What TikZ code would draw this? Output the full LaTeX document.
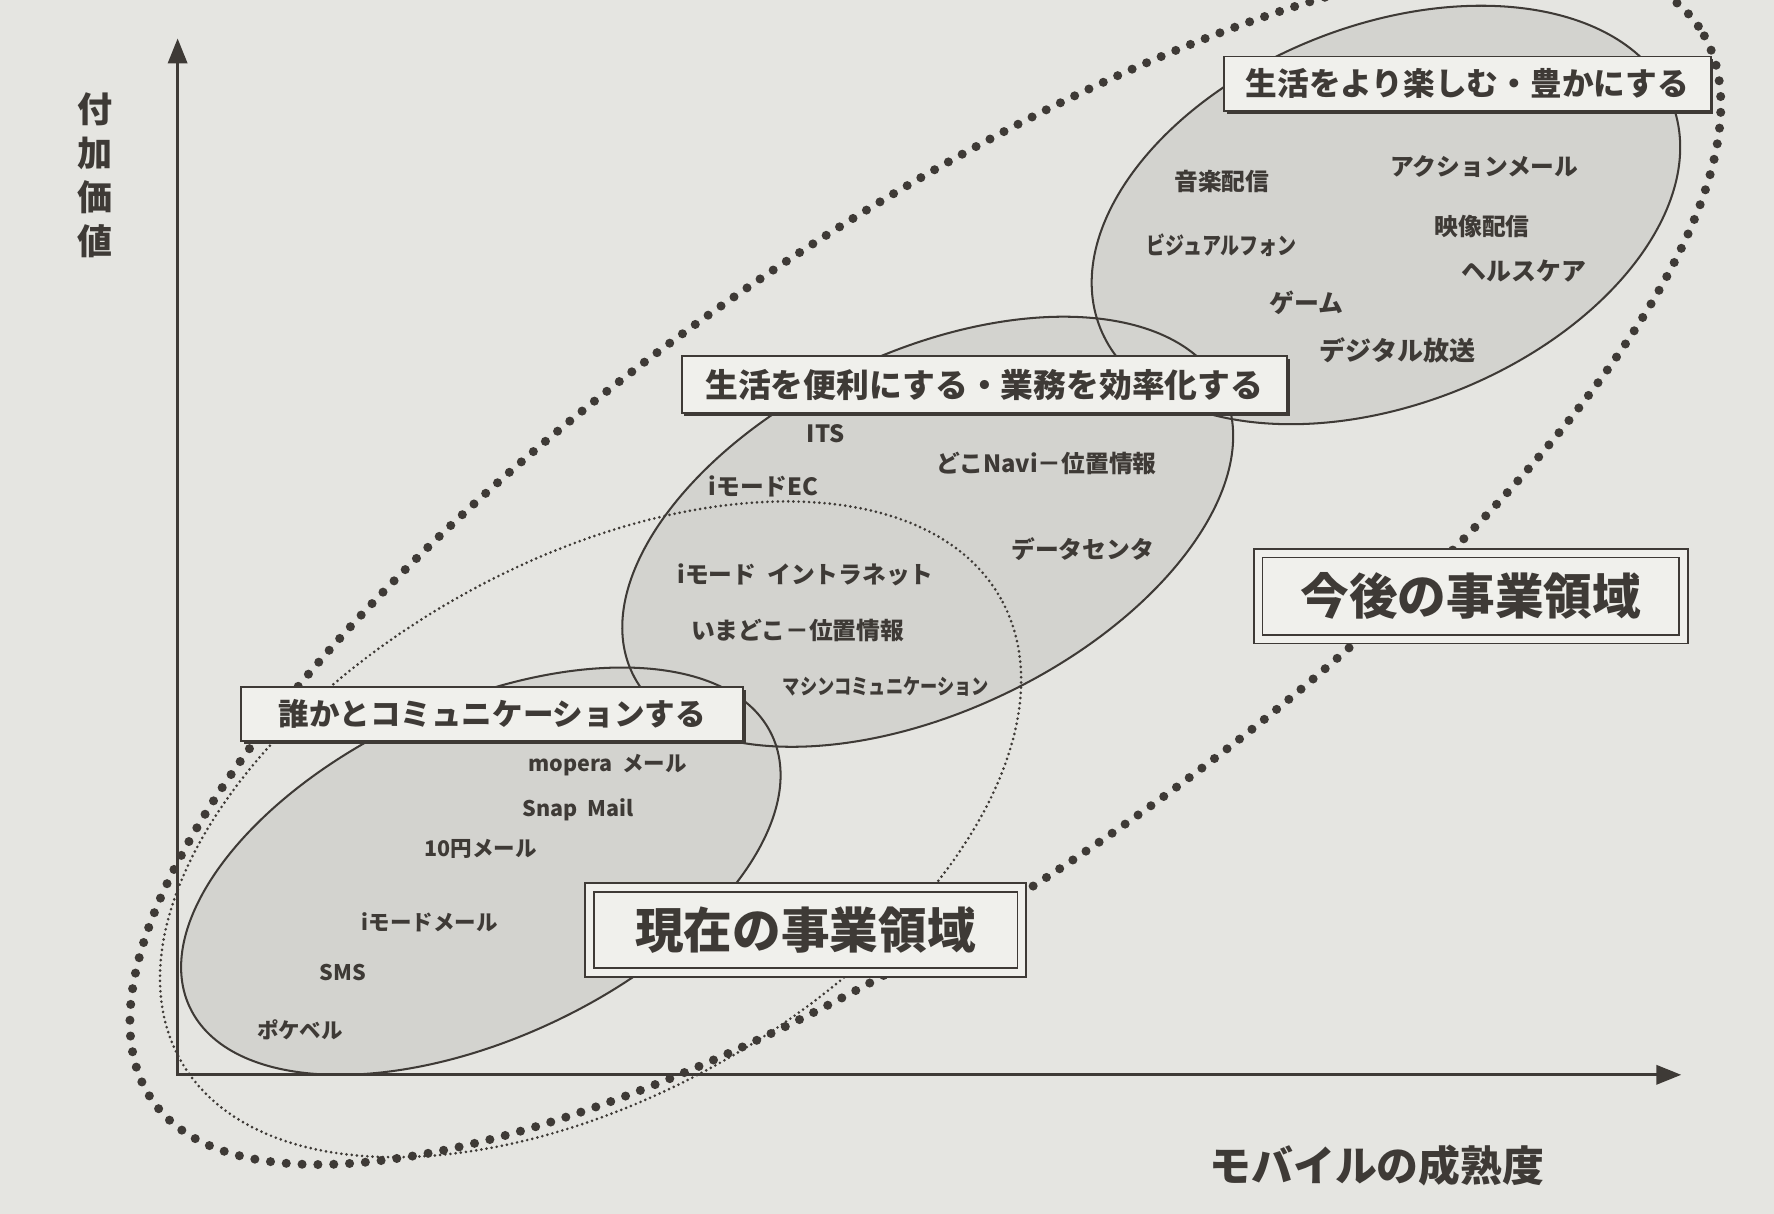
\documentclass[tikz,border=0pt]{standalone}
\usepackage{fontspec}
\newfontfamily\jp{Noto Sans CJK JP}
\usetikzlibrary{arrows.meta,shadows}
\definecolor{bg}{RGB}{229,229,225}
\definecolor{ellfill}{RGB}{211,211,207}
\definecolor{ink}{RGB}{62,58,54}
\definecolor{boxfill}{RGB}{240,240,236}
\begin{document}
\begin{tikzpicture}[x=1pt,y=-1pt,
  lbl/.style={font=\jp\bfseries\fontsize{21}{21}\selectfont, text=ink, inner sep=0pt},
  tbox/.style={draw=ink, line width=1.6pt, fill=boxfill, inner sep=0pt, text=ink,
    font=\jp\bfseries\fontsize{28}{28}\selectfont,
    drop shadow={shadow xshift=2.5pt, shadow yshift=-2.5pt, fill=ink, opacity=1}},
  bigbox/.style={draw=ink, line width=1.5pt, double=boxfill, double distance=6pt, fill=boxfill,
    inner sep=0pt, text=ink, font=\jp\bfseries\fontsize{43}{43}\selectfont,
    drop shadow={shadow xshift=2.5pt, shadow yshift=-2.5pt, fill=ink, opacity=1}},
  axisline/.style={draw=ink, line width=2.4pt, -{Triangle[length=22pt,width=17pt]}},
  bigdots/.style={draw=ink, line width=8pt, line cap=round, dash pattern=on 0pt off 14pt},
  finedots/.style={draw=ink, line width=2.6pt, line cap=round, dash pattern=on 0pt off 4.6pt},
  ell/.style={draw=ink, line width=1.8pt}]
\fill[bg] (0,0) rectangle (1568,1073);
\useasboundingbox (0,0) rectangle (1568,1073);
\clip (0,0) rectangle (1568,1073);
% centres
\coordinate (cTop) at (1225,190);
\coordinate (cMid) at (820,470);
\coordinate (cBot) at (425,770);
\coordinate (cFine) at (522,733);
\coordinate (cBig) at (818,498);
% ellipse fills
\fill[ellfill, rotate around={21.5:(cTop)}] (cTop) ellipse [x radius=271.6pt, y radius=167.5pt];
\fill[ellfill, rotate around={25.6:(cMid)}] (cMid) ellipse [x radius=289.5pt, y radius=158.7pt];
\fill[ellfill, rotate around={25:(cBot)}] (cBot) ellipse [x radius=284pt, y radius=148pt];
% dotted regions
\draw[bigdots, rotate around={34.8:(cBig)}] (cBig) ellipse [x radius=832pt, y radius=290pt];
\draw[finedots, rotate around={29.4:(cFine)}] (cFine) ellipse [x radius=416pt, y radius=236pt];
% ellipse outlines
\draw[ell, rotate around={21.5:(cTop)}] (cTop) ellipse [x radius=271.6pt, y radius=167.5pt];
\draw[ell, rotate around={25.6:(cMid)}] (cMid) ellipse [x radius=289.5pt, y radius=158.7pt];
\draw[ell, rotate around={25:(cBot)}] (cBot) ellipse [x radius=284pt, y radius=148pt];
% axes
\coordinate (O) at (157,950);
\coordinate (Ytip) at (157,34);
\coordinate (Xtip) at (1486,950);
\draw[axisline] ([yshift=1.2pt]O) -- (Ytip);
\draw[axisline] ([xshift=-1.2pt]O) -- (Xtip);
\node[font=\jp\bfseries\fontsize{31}{39}\selectfont, text=ink, align=center, inner sep=0pt] (ylab) at (84,155) {付\\加\\価\\値};
\node[font=\jp\bfseries\fontsize{37}{37}\selectfont, text=ink, inner sep=0pt] (xlab) at (1217,1030) {モバイルの成熟度};
% category boxes
\node[tbox, minimum width=430pt, minimum height=48pt] (bTop) at (1297,74) {生活をより楽しむ・豊かにする};
\node[tbox, minimum width=535pt, minimum height=50pt, font=\jp\bfseries\fontsize{29}{29}\selectfont] (bMid) at (870,340) {生活を便利にする・業務を効率化する};
\node[tbox, minimum width=444pt, minimum height=48pt, font=\jp\bfseries\fontsize{27}{27}\selectfont] (bBot) at (435,631) {誰かとコミュニケーションする};
\node[bigbox, minimum width=382pt, minimum height=75pt] (bNow) at (712,822) {現在の事業領域};
\node[bigbox, minimum width=376pt, minimum height=76pt] (bFut) at (1300,527) {今後の事業領域};
% top ellipse labels
\node[lbl] (t1) at (1080,160) {音楽配信};
\node[lbl] (t2) at (1312,147) {アクションメール};
\node[lbl] (t3) at (1310,200) {映像配信};
\node[lbl] (t4) at (1080,217) {\scalebox{0.8}[1]{ビジュアルフォン}};
\node[lbl, font=\jp\bfseries\fontsize{22}{22}\selectfont] (t5) at (1347,240) {ヘルスケア};
\node[lbl, font=\jp\bfseries\fontsize{22}{22}\selectfont] (t6) at (1155,268) {ゲーム};
\node[lbl, font=\jp\bfseries\fontsize{23}{23}\selectfont] (t7) at (1235,310) {デジタル放送};
% middle ellipse labels
\node[lbl] (m1) at (730,383) {ITS};
\node[lbl] (m2) at (925,410) {どこNavi－位置情報};
\node[lbl] (m3) at (675,430) {iモードEC};
\node[lbl] (m4) at (957,485) {データセンタ};
\node[lbl] (m5) at (712,508) {iモード\ \ イントラネット};
\node[lbl] (m6) at (705,557) {いまどこ－位置情報};
\node[lbl, font=\jp\bfseries\fontsize{19}{19}\selectfont] (m7) at (783,607) {\scalebox{0.8}[1]{マシンコミュニケーション}};
% bottom ellipse labels
\node[lbl, font=\jp\bfseries\fontsize{19}{19}\selectfont] (s1) at (537,676) {mopera\ \ メール};
\node[lbl, font=\jp\bfseries\fontsize{19}{19}\selectfont] (s2) at (511,716) {Snap\ \ Mail};
\node[lbl, font=\jp\bfseries\fontsize{19}{19}\selectfont] (s3) at (425,750) {10円メール};
\node[lbl, font=\jp\bfseries\fontsize{19}{19}\selectfont] (s4) at (380,815) {iモードメール};
\node[lbl, font=\jp\bfseries\fontsize{19}{19}\selectfont] (s5) at (303,860) {SMS};
\node[lbl, font=\jp\bfseries\fontsize{19}{19}\selectfont] (s6) at (265,910) {ポケベル};
\end{tikzpicture}
\end{document}
